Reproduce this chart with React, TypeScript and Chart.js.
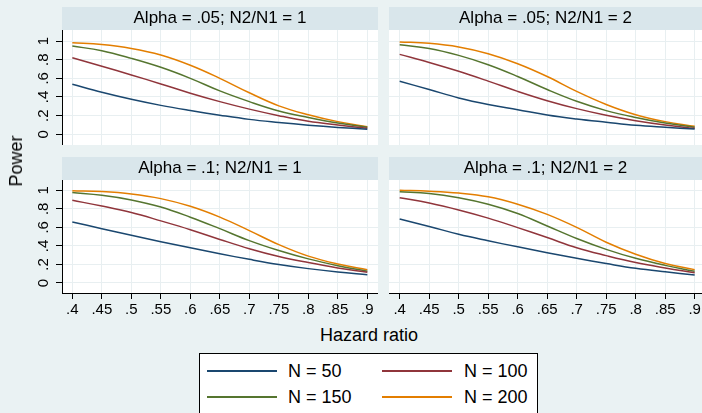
import React, { useEffect, useRef } from "react";
import { Chart, registerables } from "chart.js";

Chart.register(...registerables);

// ---------- data ----------
const hazardRatios = [0.4, 0.45, 0.5, 0.55, 0.6, 0.65, 0.7, 0.75, 0.8, 0.85, 0.9];
const xTickLabels = [".4", ".45", ".5", ".55", ".6", ".65", ".7", ".75", ".8", ".85", ".9"];
const yTicks = [0, 0.2, 0.4, 0.6, 0.8, 1];
const yTickLabels = ["0", ".2", ".4", ".6", ".8", "1"];
const seriesLabels = ["N = 50", "N = 100", "N = 150", "N = 200"];
const panelTitles = [
  "Alpha = .05; N2/N1 = 1",
  "Alpha = .05; N2/N1 = 2",
  "Alpha = .1; N2/N1 = 1",
  "Alpha = .1; N2/N1 = 2",
];

// Alpha = .05; N2/N1 = 1
const a05r1_n50 = [0.536, 0.45, 0.375, 0.31, 0.255, 0.205, 0.16, 0.127, 0.098, 0.074, 0.055];
const a05r1_n100 = [0.82, 0.73, 0.636, 0.54, 0.44, 0.35, 0.27, 0.2, 0.14, 0.1, 0.065];
const a05r1_n150 = [0.946, 0.896, 0.814, 0.718, 0.6, 0.465, 0.35, 0.25, 0.18, 0.12, 0.075];
const a05r1_n200 = [0.982, 0.962, 0.92, 0.85, 0.74, 0.6, 0.445, 0.305, 0.21, 0.136, 0.082];

// Alpha = .05; N2/N1 = 2
const a05r2_n50 = [0.568, 0.48, 0.39, 0.32, 0.264, 0.207, 0.164, 0.129, 0.096, 0.075, 0.057];
const a05r2_n100 = [0.857, 0.77, 0.675, 0.57, 0.46, 0.36, 0.275, 0.204, 0.146, 0.1, 0.064];
const a05r2_n150 = [0.96, 0.92, 0.846, 0.746, 0.62, 0.48, 0.354, 0.254, 0.18, 0.12, 0.075];
const a05r2_n200 = [0.99, 0.975, 0.936, 0.864, 0.757, 0.62, 0.46, 0.32, 0.21, 0.136, 0.086];

// Alpha = .1; N2/N1 = 1
const a10r1_n50 = [0.658, 0.586, 0.514, 0.445, 0.38, 0.315, 0.255, 0.2, 0.155, 0.118, 0.09];
const a10r1_n100 = [0.892, 0.83, 0.76, 0.67, 0.575, 0.47, 0.37, 0.286, 0.22, 0.162, 0.115];
const a10r1_n150 = [0.975, 0.946, 0.896, 0.82, 0.71, 0.586, 0.457, 0.35, 0.26, 0.187, 0.126];
const a10r1_n200 = [0.996, 0.986, 0.96, 0.91, 0.827, 0.71, 0.565, 0.414, 0.29, 0.205, 0.144];

// Alpha = .1; N2/N1 = 2
const a10r2_n50 = [0.69, 0.61, 0.525, 0.455, 0.39, 0.327, 0.266, 0.21, 0.158, 0.12, 0.087];
const a10r2_n100 = [0.92, 0.863, 0.788, 0.7, 0.597, 0.49, 0.38, 0.295, 0.22, 0.162, 0.11];
const a10r2_n150 = [0.985, 0.966, 0.92, 0.85, 0.75, 0.615, 0.48, 0.363, 0.266, 0.19, 0.126];
const a10r2_n200 = [1.0, 0.99, 0.97, 0.93, 0.85, 0.74, 0.6, 0.44, 0.31, 0.21, 0.144];

// ---------- styles ----------
const seriesColors = ["#1A476F", "#90353B", "#55752F", "#E37E00"];
const pageBg = "#EAF2F3";
const bandBg = "#D9E6EB";
const gridColor = "#E8EFF1";
const fontFamily = "'Liberation Sans', Arial, Helvetica, sans-serif";

const bandPlugin = {
  id: "panelBand",
  beforeDraw(chart: any) {
    const { ctx, chartArea, titleBlock } = chart;
    ctx.save();
    ctx.fillStyle = "#FFFFFF";
    ctx.fillRect(chartArea.left, chartArea.top, chartArea.right - chartArea.left, chartArea.bottom - chartArea.top);
    if (titleBlock) {
      ctx.fillStyle = bandBg;
      ctx.fillRect(chartArea.left, titleBlock.top, chartArea.right - chartArea.left, titleBlock.height);
    }
    ctx.restore();
  },
};

type PanelProps = {
  title: string;
  series: number[][];
  left: number;
  top: number;
  width: number;
  height: number;
  showX: boolean;
  showY: boolean;
  xMin: number;
  xMax: number;
  yMin: number;
  yMax: number;
};

function Panel(p: PanelProps) {
  const ref = useRef<HTMLCanvasElement | null>(null);
  useEffect(() => {
    if (!ref.current) return;
    const chart = new Chart(ref.current, {
      type: "line",
      data: {
        datasets: p.series.map((vals, i) => ({
          label: seriesLabels[i],
          data: hazardRatios.map((x, j) => ({ x, y: vals[j] })),
          borderColor: seriesColors[i],
          backgroundColor: seriesColors[i],
          borderWidth: 1.5,
          pointRadius: 0,
          fill: false,
          tension: 0.4,
        })),
      },
      options: {
        responsive: false,
        animation: false,
        events: [],
        layout: { padding: 0 },
        plugins: {
          legend: { display: false },
          tooltip: { enabled: false },
          title: {
            display: true,
            text: p.title,
            fullSize: false,
            padding: 0,
            color: "#000",
            font: { family: fontFamily, size: 17, weight: "normal", lineHeight: "23px" } as any,
          },
        },
        scales: {
          x: {
            type: "linear",
            min: p.xMin,
            max: p.xMax,
            afterBuildTicks: (s: any) => {
              s.ticks = hazardRatios.map((v) => ({ value: v }));
            },
            afterFit: (s: any) => {
              s.height = p.showX ? 25 : 0;
              s.paddingLeft = 0;
              s.paddingRight = 0;
              s.paddingTop = 0;
              s.paddingBottom = 0;
            },
            ticks: {
              display: p.showX,
              autoSkip: false,
              maxRotation: 0,
              minRotation: 0,
              padding: 2,
              color: "#000",
              font: { family: fontFamily, size: 15 },
              callback: (_v: any, i: number) => xTickLabels[i],
            },
            grid: {
              color: gridColor,
              lineWidth: 1,
              drawTicks: p.showX,
              tickLength: 6,
              tickColor: "#000",
            },
            border: { display: p.showX, color: "#000", width: 1 },
          },
          y: {
            type: "linear",
            min: p.yMin,
            max: p.yMax,
            afterBuildTicks: (s: any) => {
              s.ticks = yTicks.map((v) => ({ value: v }));
            },
            afterFit: (s: any) => {
              s.width = p.showY ? 38 : 0;
              s.paddingLeft = 0;
              s.paddingRight = 0;
              s.paddingTop = 0;
              s.paddingBottom = 0;
            },
            ticks: {
              display: p.showY,
              autoSkip: false,
              minRotation: 90,
              maxRotation: 90,
              crossAlign: "center",
              padding: 6,
              color: "#000",
              font: { family: fontFamily, size: 15 },
              callback: (_v: any, i: number) => yTickLabels[i],
            },
            grid: {
              color: gridColor,
              lineWidth: 1,
              drawTicks: p.showY,
              tickLength: 6,
              tickColor: "#000",
            },
            border: { display: p.showY, color: "#000", width: 1 },
          },
        },
      } as any,
      plugins: [bandPlugin],
    });
    return () => chart.destroy();
  }, []);
  return (
    <canvas
      ref={ref}
      width={p.width}
      height={p.height}
      style={{ position: "absolute", left: p.left, top: p.top, width: p.width, height: p.height }}
    />
  );
}

const textStyle: React.CSSProperties = {
  position: "absolute",
  fontFamily,
  fontSize: 18,
  lineHeight: "18px",
  color: "#000",
  whiteSpace: "nowrap",
};

export default function App() {
  const leftX = { xMin: 0.3825, xMax: 0.9181 };
  const rightX = { xMin: 0.3819, xMax: 0.9124 };
  const topY = { yMin: -0.1147, yMax: 1.118 };
  const botY = { yMin: -0.108, yMax: 1.111 };
  return (
    <div
      style={{
        position: "absolute",
        left: 0,
        top: 0,
        width: 702,
        height: 413,
        overflow: "hidden",
        background: pageBg,
      }}
    >
      <Panel
        title={panelTitles[0]}
        series={[a05r1_n50, a05r1_n100, a05r1_n150, a05r1_n200]}
        left={24}
        top={7}
        width={354}
        height={138}
        showX={false}
        showY={true}
        {...leftX}
        {...topY}
      />
      <Panel
        title={panelTitles[1]}
        series={[a05r2_n50, a05r2_n100, a05r2_n150, a05r2_n200]}
        left={389}
        top={7}
        width={313}
        height={138}
        showX={false}
        showY={false}
        {...rightX}
        {...topY}
      />
      <Panel
        title={panelTitles[2]}
        series={[a10r1_n50, a10r1_n100, a10r1_n150, a10r1_n200]}
        left={24}
        top={157}
        width={354}
        height={161}
        showX={true}
        showY={true}
        {...leftX}
        {...botY}
      />
      <Panel
        title={panelTitles[3]}
        series={[a10r2_n50, a10r2_n100, a10r2_n150, a10r2_n200]}
        left={389}
        top={157}
        width={313}
        height={161}
        showX={true}
        showY={false}
        {...rightX}
        {...botY}
      />
      <div
        style={{
          ...textStyle,
          left: 16,
          top: 161,
          transform: "translate(-50%, -50%) rotate(-90deg)",
        }}
      >
        Power
      </div>
      <div style={{ ...textStyle, left: 369, top: 335, transform: "translate(-50%, -50%)" }}>Hazard ratio</div>
      <div
        style={{
          position: "absolute",
          left: 199,
          top: 353,
          width: 339,
          height: 70,
          background: "#FFFFFF",
          border: "1px solid #000",
          boxSizing: "border-box",
        }}
      />
      {seriesLabels.map((lab, i) => {
        const col = i % 2;
        const row = Math.floor(i / 2);
        const lineLeft = col === 0 ? 207 : 382;
        const textLeft = col === 0 ? 288 : 464;
        const cy = row === 0 ? 371 : 397;
        return (
          <React.Fragment key={lab}>
            <div
              style={{
                position: "absolute",
                left: lineLeft,
                top: cy - 1,
                width: 70,
                height: 2,
                background: seriesColors[i],
              }}
            />
            <div style={{ ...textStyle, left: textLeft, top: cy, transform: "translateY(-50%)" }}>{lab}</div>
          </React.Fragment>
        );
      })}
    </div>
  );
}
